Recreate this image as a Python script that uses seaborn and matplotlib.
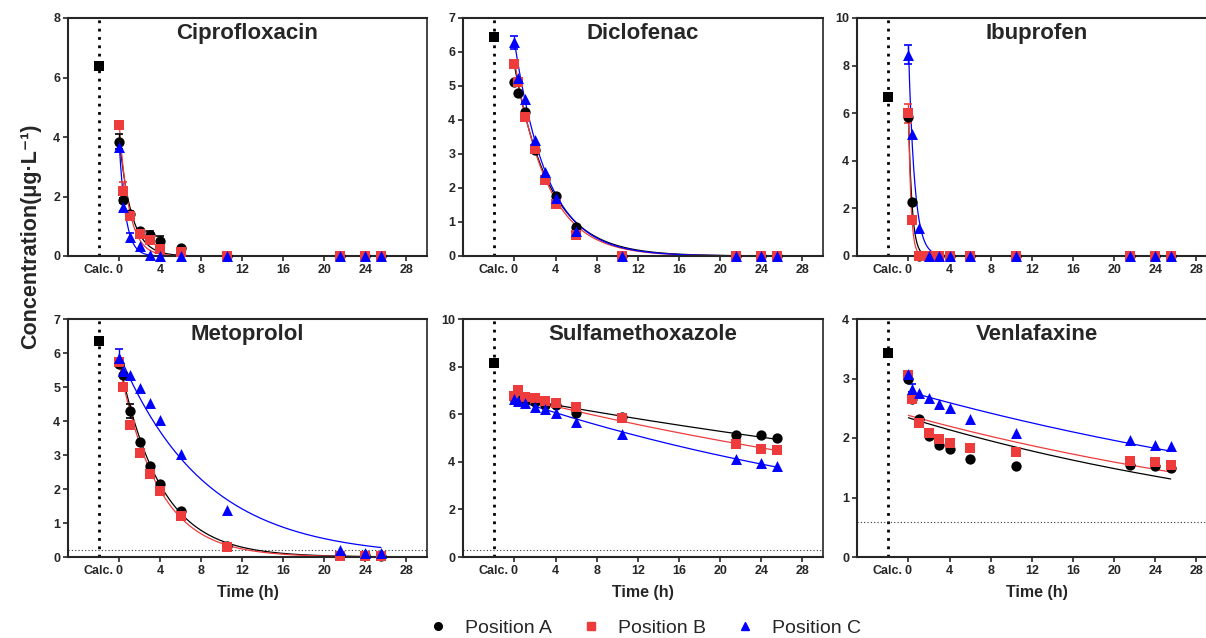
import numpy as np
import pandas as pd
import matplotlib
matplotlib.use("Agg")
import matplotlib.pyplot as plt
from matplotlib.lines import Line2D
import seaborn as sns

# ---------------- data ----------------
time_h = [0, 0.33, 1, 2, 3, 4, 6, 10.5, 21.5, 24, 25.5]
positions = ["Position A", "Position B", "Position C"]
drugs = ["Ciprofloxacin", "Diclofenac", "Ibuprofen", "Metoprolol", "Sulfamethoxazole", "Venlafaxine"]
calc_values = [6.37, 6.44, 6.67, 6.36, 8.15, 3.43]
loq_values = [None, None, None, 0.2, 0.3, 0.59]
y_max = [8, 7, 10, 7, 10, 4]
y_step = [2, 1, 2, 1, 2, 1]
x_ticks = [0, 4, 8, 12, 16, 20, 24, 28]

cipro_A = [3.84, 1.87, 1.42, 0.83, 0.69, 0.52, 0.28, 0, 0, 0, 0]
cipro_B = [4.39, 2.20, 1.36, 0.74, 0.54, 0.24, 0.12, 0, 0, 0, 0]
cipro_C = [3.67, 1.66, 0.63, 0.35, 0.05, 0.0, 0.0, 0, 0, 0, 0]
cipro_errA = [0.25, 0.08, 0.08, 0.08, 0.15, 0.15, 0, 0, 0, 0, 0]
cipro_errB = [0, 0.30, 0.15, 0.08, 0.08, 0, 0, 0, 0, 0, 0]
cipro_errC = [0.08, 0.15, 0.15, 0, 0, 0, 0, 0, 0, 0, 0]

diclo_A = [5.13, 4.80, 4.25, 3.13, 2.27, 1.76, 0.85, 0, 0, 0, 0]
diclo_B = [5.65, 5.13, 4.10, 3.14, 2.25, 1.54, 0.62, 0, 0, 0, 0]
diclo_C = [6.28, 5.25, 4.62, 3.41, 2.47, 1.70, 0.75, 0, 0, 0, 0]
diclo_errA = [0, 0, 0, 0, 0, 0, 0, 0, 0, 0, 0]
diclo_errB = [0, 0, 0, 0, 0, 0, 0, 0, 0, 0, 0]
diclo_errC = [0.18, 0, 0, 0, 0, 0, 0, 0, 0, 0, 0]

ibu_A = [5.82, 2.26, 0, 0, 0, 0, 0, 0, 0, 0, 0]
ibu_B = [5.99, 1.53, 0, 0, 0, 0, 0, 0, 0, 0, 0]
ibu_C = [8.45, 5.12, 1.18, 0, 0, 0, 0, 0, 0, 0, 0]
ibu_errA = [0, 0, 0, 0, 0, 0, 0, 0, 0, 0, 0]
ibu_errB = [0.4, 0, 0, 0, 0, 0, 0, 0, 0, 0, 0]
ibu_errC = [0.4, 0, 0, 0, 0, 0, 0, 0, 0, 0, 0]

meto_A = [5.69, 5.35, 4.29, 3.39, 2.67, 2.16, 1.34, 0.32, 0.05, 0.05, 0.04]
meto_B = [5.74, 5.00, 3.88, 3.06, 2.43, 1.94, 1.20, 0.29, 0.03, 0.03, 0.03]
meto_C = [5.86, 5.47, 5.35, 4.98, 4.54, 4.02, 3.02, 1.37, 0.20, 0.13, 0.12]
meto_errA = [0, 0, 0.20, 0, 0, 0, 0, 0, 0, 0, 0]
meto_errB = [0, 0, 0, 0, 0, 0, 0, 0, 0, 0, 0]
meto_errC = [0.25, 0, 0, 0, 0, 0, 0, 0, 0, 0, 0]

sulfa_A = [6.68, 6.60, 6.55, 6.50, 6.38, 6.40, 6.03, 5.89, 5.12, 5.12, 4.98]
sulfa_B = [6.77, 7.01, 6.73, 6.66, 6.55, 6.48, 6.30, 5.86, 4.74, 4.52, 4.49]
sulfa_C = [6.62, 6.55, 6.45, 6.31, 6.21, 6.03, 5.68, 5.15, 4.10, 3.93, 3.81]
sulfa_errA = [0, 0, 0, 0, 0, 0, 0, 0, 0, 0, 0]
sulfa_errB = [0, 0.12, 0, 0, 0, 0, 0.15, 0, 0, 0, 0]
sulfa_errC = [0, 0, 0, 0, 0, 0, 0, 0, 0, 0, 0]

venla_A = [3.00, 2.65, 2.32, 2.04, 1.88, 1.82, 1.65, 1.53, 1.54, 1.53, 1.50]
venla_B = [3.06, 2.65, 2.26, 2.09, 1.98, 1.92, 1.84, 1.77, 1.61, 1.60, 1.55]
venla_C = [3.07, 2.83, 2.76, 2.68, 2.57, 2.50, 2.32, 2.09, 1.96, 1.88, 1.87]
venla_errA = [0, 0, 0, 0, 0, 0, 0, 0, 0, 0, 0]
venla_errB = [0, 0, 0, 0, 0, 0, 0, 0, 0, 0, 0]
venla_errC = [0, 0.08, 0, 0, 0, 0, 0, 0, 0, 0, 0]

# first-order decay fit parameters (C0, k) for positions A, B, C
cipro_fit = [(3.95, 0.85), (4.40, 1.05), (3.75, 1.60)]
diclo_fit = [(5.60, 0.29), (5.75, 0.31), (6.30, 0.31)]
ibu_fit = [(6.00, 2.90), (6.20, 4.00), (8.80, 1.70)]
meto_fit = [(5.75, 0.25), (5.65, 0.265), (5.95, 0.12)]
sulfa_fit = [(6.70, 0.0119), (6.75, 0.0161), (6.62, 0.022)]
venla_fit = [(2.34, 0.0227), (2.38, 0.020), (2.78, 0.0175)]

values = [(cipro_A, cipro_B, cipro_C), (diclo_A, diclo_B, diclo_C), (ibu_A, ibu_B, ibu_C),
          (meto_A, meto_B, meto_C), (sulfa_A, sulfa_B, sulfa_C), (venla_A, venla_B, venla_C)]
errors = [(cipro_errA, cipro_errB, cipro_errC), (diclo_errA, diclo_errB, diclo_errC),
          (ibu_errA, ibu_errB, ibu_errC), (meto_errA, meto_errB, meto_errC),
          (sulfa_errA, sulfa_errB, sulfa_errC), (venla_errA, venla_errB, venla_errC)]
fits = [cipro_fit, diclo_fit, ibu_fit, meto_fit, sulfa_fit, venla_fit]

# ---------------- style ----------------
sns.set_style("ticks")
plt.rcParams["font.family"] = ["Liberation Sans", "DejaVu Sans"]
plt.rcParams["axes.linewidth"] = 1.5

colors = {"Position A": "#000000", "Position B": "#EE3B3B", "Position C": "#0000FF"}
markers = {"Position A": "o", "Position B": "s", "Position C": "^"}
msizes = {"Position A": 55, "Position B": 50, "Position C": 62}

W, H = 1206, 638
fig = plt.figure(figsize=(W / 100, H / 100), dpi=100)

col_left = [68, 463, 857]
col_width = [359, 360, 360]
row_bottom = [256, 557]
ax_h = 238

axes = []
for r in range(2):
    for c in range(3):
        ax = fig.add_axes([col_left[c] / W, 1 - row_bottom[r] / H, col_width[c] / W, ax_h / H])
        axes.append(ax)

t_fit = np.linspace(0, 25.5, 400)

for i, ax in enumerate(axes):
    # fitted curves
    fit_rows = []
    for p, (c0, k) in zip(positions, fits[i]):
        for t in t_fit:
            fit_rows.append({"t": t, "c": c0 * np.exp(-k * t), "pos": p})
    fit_df = pd.DataFrame(fit_rows)
    sns.lineplot(data=fit_df, x="t", y="c", hue="pos", palette=colors, ax=ax,
                 legend=False, linewidth=0.9, zorder=2)

    # calc line and LOQ
    ax.axvline(-2, color="black", linestyle=(0, (1, 2)), linewidth=2.0, zorder=1)
    if loq_values[i] is not None:
        ax.axhline(loq_values[i], color="#333333", linestyle=(0, (1, 2)), linewidth=0.8, zorder=1)

    # error bars + points
    for j, p in enumerate(positions):
        err = np.array(errors[i][j])
        m = err > 0
        if m.any():
            ax.errorbar(np.array(time_h)[m], np.array(values[i][j])[m], yerr=err[m], fmt="none",
                        ecolor=colors[p], elinewidth=1.0, capsize=3, capthick=1.2,
                        zorder=3, clip_on=False)
        df = pd.DataFrame({"t": time_h, "c": values[i][j]})
        sns.scatterplot(data=df, x="t", y="c", ax=ax, color=colors[p], marker=markers[p],
                        s=msizes[p], linewidth=0, zorder=4 + j, clip_on=False, legend=False)
    calc_df = pd.DataFrame({"t": [-2], "c": [calc_values[i]]})
    sns.scatterplot(data=calc_df, x="t", y="c", ax=ax, color="black", marker="s", s=50,
                    linewidth=0, zorder=6, clip_on=False, legend=False)

    ax.set_xlim(-5, 30)
    ax.set_ylim(0, y_max[i])
    ax.set_xticks([-2] + x_ticks)
    ax.set_xticklabels(["Calc."] + [str(v) for v in x_ticks])
    ax.set_yticks(np.arange(0, y_max[i] + 0.01, y_step[i]))
    ax.set_yticklabels([str(int(v)) for v in np.arange(0, y_max[i] + 0.01, y_step[i])])
    ax.tick_params(axis="both", direction="out", length=3.5, width=1.2, pad=2,
                   labelsize=9)
    for lab in ax.get_xticklabels() + ax.get_yticklabels():
        lab.set_fontweight("bold")
    ax.xaxis.get_major_ticks()[0].tick1line.set_visible(False)
    for s in ["left", "bottom", "top"]:
        ax.spines[s].set_linewidth(1.5)
    ax.spines["right"].set_linewidth(1.2)
    ax.set_ylabel("")
    if i >= 3:
        ax.set_xlabel("Time (h)", fontsize=11.5, fontweight="bold", labelpad=6)
    else:
        ax.set_xlabel("")
    ax.text(0.5, 0.933, drugs[i], transform=ax.transAxes, ha="center", va="center",
            fontsize=16, fontweight="bold")

fig.text(31 / W, 1 - 236 / H, "Concentration(μg·L⁻¹)", rotation=90, ha="center", va="center",
         fontsize=15.5, fontweight="bold", family=["Liberation Sans", "DejaVu Sans"])

handles = [Line2D([], [], linestyle="none", marker=markers[p], color=colors[p],
                  markersize=5.5 if p != "Position C" else 6) for p in positions]
fig.legend(handles, positions, loc="center", bbox_to_anchor=(640 / W, 1 - 628 / H), ncol=3,
           frameon=False, fontsize=14, handletextpad=0.4, columnspacing=1.0,
           borderaxespad=0, borderpad=0)

fig.savefig("out.png", dpi=100)
